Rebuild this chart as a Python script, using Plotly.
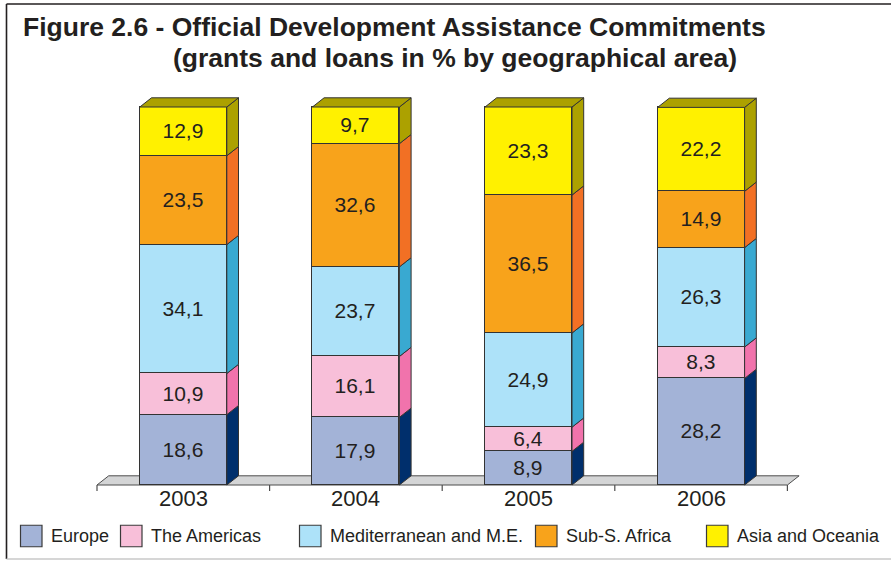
import plotly.graph_objects as go

# ---------------- data ----------------
years = ["2003", "2004", "2005", "2006"]
series_names = ["Europe", "The Americas", "Mediterranean and M.E.", "Sub-S. Africa", "Asia and Oceania"]
europe = [18.6, 17.9, 8.9, 28.2]
americas = [10.9, 16.1, 6.4, 8.3]
mediterranean = [34.1, 23.7, 24.9, 26.3]
subs_africa = [23.5, 32.6, 36.5, 14.9]
asia_oceania = [12.9, 9.7, 23.3, 22.2]
series_values = [europe, americas, mediterranean, subs_africa, asia_oceania]

# ---------------- styles ----------------
front_colors = ["#a3b3d7", "#f8bfd9", "#ade2f9", "#f8a31b", "#fff100"]
side_colors = ["#002f6c", "#f173ac", "#39a9d1", "#f27024", "#aca100"]
top_color = "#aca100"
edge = "#333333"
txt = "#231f20"
FONT = "Liberation Sans, Arial, sans-serif"

W, H = 891, 562
# pixel geometry of plot mapping (plot area = full figure)
X0PX, XUNIT = 97.0, 172.6      # pixel of x=-0.5, pixels per category
Y0PX, YUNIT = 485.0, 3.78      # pixel of y=0, pixels per %
DXPX, DYPX = 11.7, 9.2         # 3D depth in pixels
dx = DXPX / XUNIT
dy = DYPX / YUNIT
bar_w = 0.504

x_range = [-0.5 - X0PX / XUNIT, -0.5 + (W - X0PX) / XUNIT]
y_range = [-(H - Y0PX) / YUNIT, Y0PX / YUNIT]


def PX(px):
    return px / W


def PY(py):
    return 1 - py / H


fig = go.Figure()
xs = list(range(len(years)))

# front faces (stacked bars)
for name, vals, col in zip(series_names, series_values, front_colors):
    fig.add_trace(go.Bar(
        x=xs, y=vals, name=name, width=bar_w,
        marker=dict(color=col, line=dict(color=edge, width=1.2)),
        text=[f"{v:.1f}".replace(".", ",") for v in vals],
        textposition="inside", insidetextanchor="middle", constraintext="none",
        textangle=0,
        textfont=dict(family=FONT, size=21, color=txt),
        hoverinfo="skip", showlegend=False,
    ))

# side faces computed from stacked values
bases = [0.0] * len(years)
for vals, scol in zip(series_values, side_colors):
    px_, py_ = [], []
    for i, v in enumerate(vals):
        xr = i + bar_w / 2
        b = bases[i]
        t = b + v
        px_ += [xr, xr + dx, xr + dx, xr, xr, None]
        py_ += [b, b + dy, t + dy, t, b, None]
        bases[i] = t
    fig.add_trace(go.Scatter(x=px_, y=py_, mode="lines", fill="toself",
                             fillcolor=scol, line=dict(color=edge, width=1),
                             hoverinfo="skip", showlegend=False))

# top faces
tx, ty = [], []
for i, t in enumerate(bases):
    xl, xr = i - bar_w / 2, i + bar_w / 2
    tx += [xl, xl + dx, xr + dx, xr, xl, None]
    ty += [t, t + dy, t + dy, t, t, None]
fig.add_trace(go.Scatter(x=tx, y=ty, mode="lines", fill="toself",
                         fillcolor=top_color, line=dict(color=edge, width=1),
                         hoverinfo="skip", showlegend=False))

shapes = []
# floor
xa, xb = -0.5, len(years) - 0.5
shapes.append(dict(type="path", xref="x", yref="y", layer="below",
                   path=f"M {xa},0 L {xb},0 L {xb+dx},{dy} L {xa+dx},{dy} Z",
                   fillcolor="#d4d5d6", line=dict(color="#4d4d4d", width=1)))
# tick marks
for k in range(len(years) + 1):
    xt = k - 0.5
    shapes.append(dict(type="line", xref="x", yref="paper", x0=xt, x1=xt,
                       y0=PY(485), y1=PY(491), line=dict(color="#4d4d4d", width=1.2)))

# frame
shapes.append(dict(type="line", xref="paper", yref="paper", x0=PX(6.5), x1=PX(W + 5),
                   y0=PY(4), y1=PY(4), line=dict(color=txt, width=1.6)))
shapes.append(dict(type="line", xref="paper", yref="paper", x0=PX(6.5), x1=PX(6.5),
                   y0=PY(4), y1=PY(559), line=dict(color=txt, width=1.6)))
shapes.append(dict(type="line", xref="paper", yref="paper", x0=PX(6.5), x1=PX(W + 5),
                   y0=PY(559), y1=PY(559), line=dict(color="#c8c8c8", width=1.6)))

annotations = []
# title
annotations.append(dict(text="<b>Figure 2.6 - Official Development Assistance Commitments</b>",
                        xref="paper", yref="paper", x=PX(21), y=PY(27), xanchor="left",
                        yanchor="middle", showarrow=False,
                        font=dict(family=FONT, size=26.5, color=txt)))
annotations.append(dict(text="<b>(grants and loans in % by geographical area)</b>",
                        xref="paper", yref="paper", x=PX(171), y=PY(58), xanchor="left",
                        yanchor="middle", showarrow=False,
                        font=dict(family=FONT, size=26.5, color=txt)))
# year labels
for i, yname in enumerate(years):
    annotations.append(dict(text=yname, xref="x", yref="paper", x=i, y=PY(498),
                            xanchor="center", yanchor="middle", showarrow=False,
                            font=dict(family=FONT, size=22, color=txt)))

# custom legend
legend_text_left = [49, 149, 328, 564, 735]
box = 21.5
for name, col, tl in zip(series_names, front_colors, legend_text_left):
    bl = tl - 28.5
    shapes.append(dict(type="rect", xref="paper", yref="paper",
                       x0=PX(bl), x1=PX(bl + box), y0=PY(536 - box / 2), y1=PY(536 + box / 2),
                       fillcolor=col, line=dict(color="#3a3a3a", width=1.2)))
    annotations.append(dict(text=name, xref="paper", yref="paper", x=PX(tl), y=PY(536),
                            xanchor="left", yanchor="middle", showarrow=False,
                            font=dict(family=FONT, size=18, color=txt)))

fig.update_layout(
    width=W, height=H, barmode="stack", bargap=0,
    margin=dict(l=0, r=0, t=0, b=0),
    paper_bgcolor="white", plot_bgcolor="white",
    xaxis=dict(range=x_range, visible=False, fixedrange=True),
    yaxis=dict(range=y_range, visible=False, fixedrange=True),
    shapes=shapes, annotations=annotations, showlegend=False,
)

fig.write_html("out.html", config={"displayModeBar": False},
               post_script="document.body.style.margin='0px';document.body.style.overflow='hidden';")
